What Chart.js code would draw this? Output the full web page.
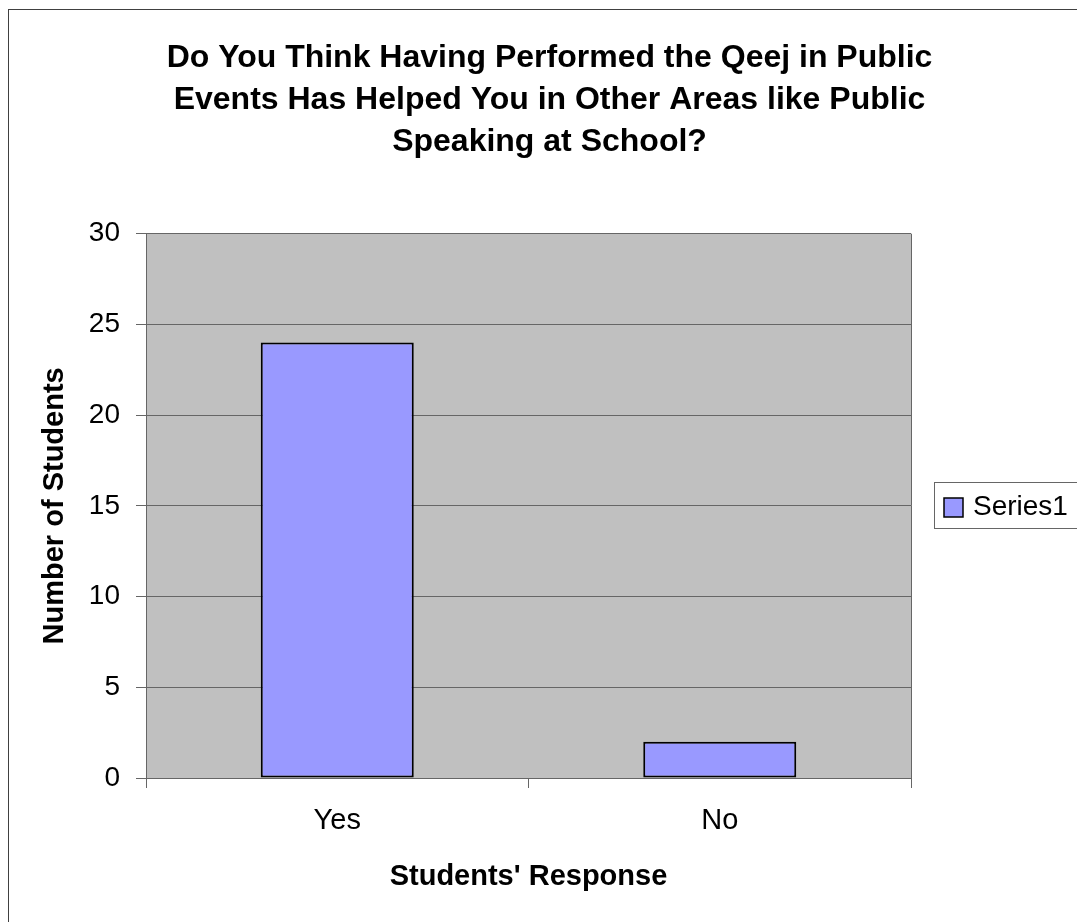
<!DOCTYPE html>
<html>
<head>
<meta charset="utf-8">
<script src="https://cdn.jsdelivr.net/npm/chart.js@4.4.1/dist/chart.umd.min.js"></script>
<style>
  html, body { margin: 0; padding: 0; background: #fff; }
  #wrap { width: 1077px; height: 922px; }
</style>
</head>
<body>
<div id="wrap"><canvas id="chart" width="1077" height="922"></canvas></div>
<script>
const categories = ['Yes', 'No'];
const seriesName = 'Series1';
const seriesValues = [24, 2];
const yTicks = [0, 5, 10, 15, 20, 25, 30];

const titleLines = [
  'Do You Think Having Performed the Qeej in Public',
  'Events Has Helped You in Other Areas like Public',
  'Speaking at School?'
];

const FONT = '"Liberation Sans", Arial, sans-serif';
const GRID = '#666666';

// gray plot background, plot frame and the outer chart border
const plotFrame = {
  id: 'plotFrame',
  beforeDraw(chart) {
    const {ctx, chartArea: {left, top, width, height}} = chart;
    ctx.save();
    ctx.fillStyle = '#c0c0c0';
    ctx.fillRect(left, top, width, height);
    ctx.strokeStyle = '#404040';
    ctx.lineWidth = 1;
    ctx.strokeRect(8.5, 9.5, chart.width + 20, chart.height + 20);
    ctx.restore();
  },
  afterDraw(chart) {
    const {ctx, chartArea: {top, bottom, right}} = chart;
    ctx.save();
    ctx.strokeStyle = GRID;
    ctx.lineWidth = 1;
    ctx.beginPath();
    ctx.moveTo(Math.round(right) + 0.5, top);
    ctx.lineTo(Math.round(right) + 0.5, bottom);
    ctx.stroke();
    ctx.restore();
  }
};

// boxed legend on the right, centred on the plot area
const boxLegend = {
  id: 'boxLegend',
  afterDraw(chart) {
    const {ctx, chartArea: {top, bottom, right}} = chart;
    const ds = chart.data.datasets[0];
    const cy = Math.round((top + bottom) / 2);
    const x0 = Math.round(right) + 23;
    ctx.save();
    ctx.fillStyle = '#ffffff';
    ctx.strokeStyle = '#666666';
    ctx.lineWidth = 1;
    ctx.fillRect(x0 + 0.5, cy - 24 + 0.5, 200, 46);
    ctx.strokeRect(x0 + 0.5, cy - 24 + 0.5, 200, 46);
    ctx.fillStyle = ds.backgroundColor;
    ctx.fillRect(x0 + 10, cy - 8, 19, 19);
    ctx.strokeStyle = '#000000';
    ctx.lineWidth = 1.5;
    ctx.strokeRect(x0 + 10, cy - 8, 19, 19);
    ctx.fillStyle = '#000000';
    ctx.font = '28px ' + FONT;
    ctx.textBaseline = 'middle';
    ctx.textAlign = 'left';
    ctx.fillText(ds.label, x0 + 39, cy + 1);
    ctx.restore();
  }
};

const data = {
  labels: categories,
  datasets: [{
    label: seriesName,
    data: seriesValues,
    backgroundColor: '#9999ff',
    borderColor: '#000000',
    borderWidth: 2,
    borderSkipped: false,
    categoryPercentage: 1,
    barPercentage: 0.4
  }]
};

const config = {
  type: 'bar',
  data,
  options: {
    responsive: false,
    animation: false,
    layout: { padding: { left: 22, right: 0, top: 20, bottom: 0 } },
    plugins: {
      legend: { display: false },
      tooltip: { enabled: false },
      title: {
        display: true,
        text: titleLines,
        color: '#000',
        font: { family: FONT, size: 32, weight: 'bold', lineHeight: 1.32 },
        padding: { top: 17, bottom: 70 }
      }
    },
    scales: {
      x: {
        grid: { offset: true, drawOnChartArea: false, drawTicks: true, tickLength: 10, color: GRID },
        border: { color: GRID, width: 1 },
        ticks: { color: '#000', font: { family: FONT, size: 29 }, padding: 16 },
        title: {
          display: true,
          text: "Students' Response",
          color: '#000',
          font: { family: FONT, size: 29, weight: 'bold' },
          padding: { top: 0, bottom: 28 }
        },
        afterFit(scale) { scale.height = 144; }
      },
      y: {
        min: 0,
        max: 30,
        afterBuildTicks(scale) { scale.ticks = yTicks.map(v => ({ value: v })); },
        grid: { color: GRID, tickLength: 10, lineWidth: 1 },
        border: { color: GRID, width: 1 },
        ticks: { color: '#000', font: { family: FONT, size: 28 }, padding: 16 },
        title: {
          display: true,
          text: 'Number of Students',
          color: '#000',
          font: { family: FONT, size: 29, weight: 'bold' },
          padding: { top: 16, bottom: 0 }
        },
        afterFit(scale) { scale.width = 124; }
      },
      // empty right-hand axis that reserves room for the legend box
      side: {
        type: 'linear',
        position: 'right',
        grid: { display: false },
        border: { display: false },
        ticks: { display: false },
        afterFit(scale) { scale.width = 166; }
      }
    }
  },
  plugins: [plotFrame, boxLegend]
};

const myChart = new Chart(document.getElementById('chart'), config);
</script>
</body>
</html>
